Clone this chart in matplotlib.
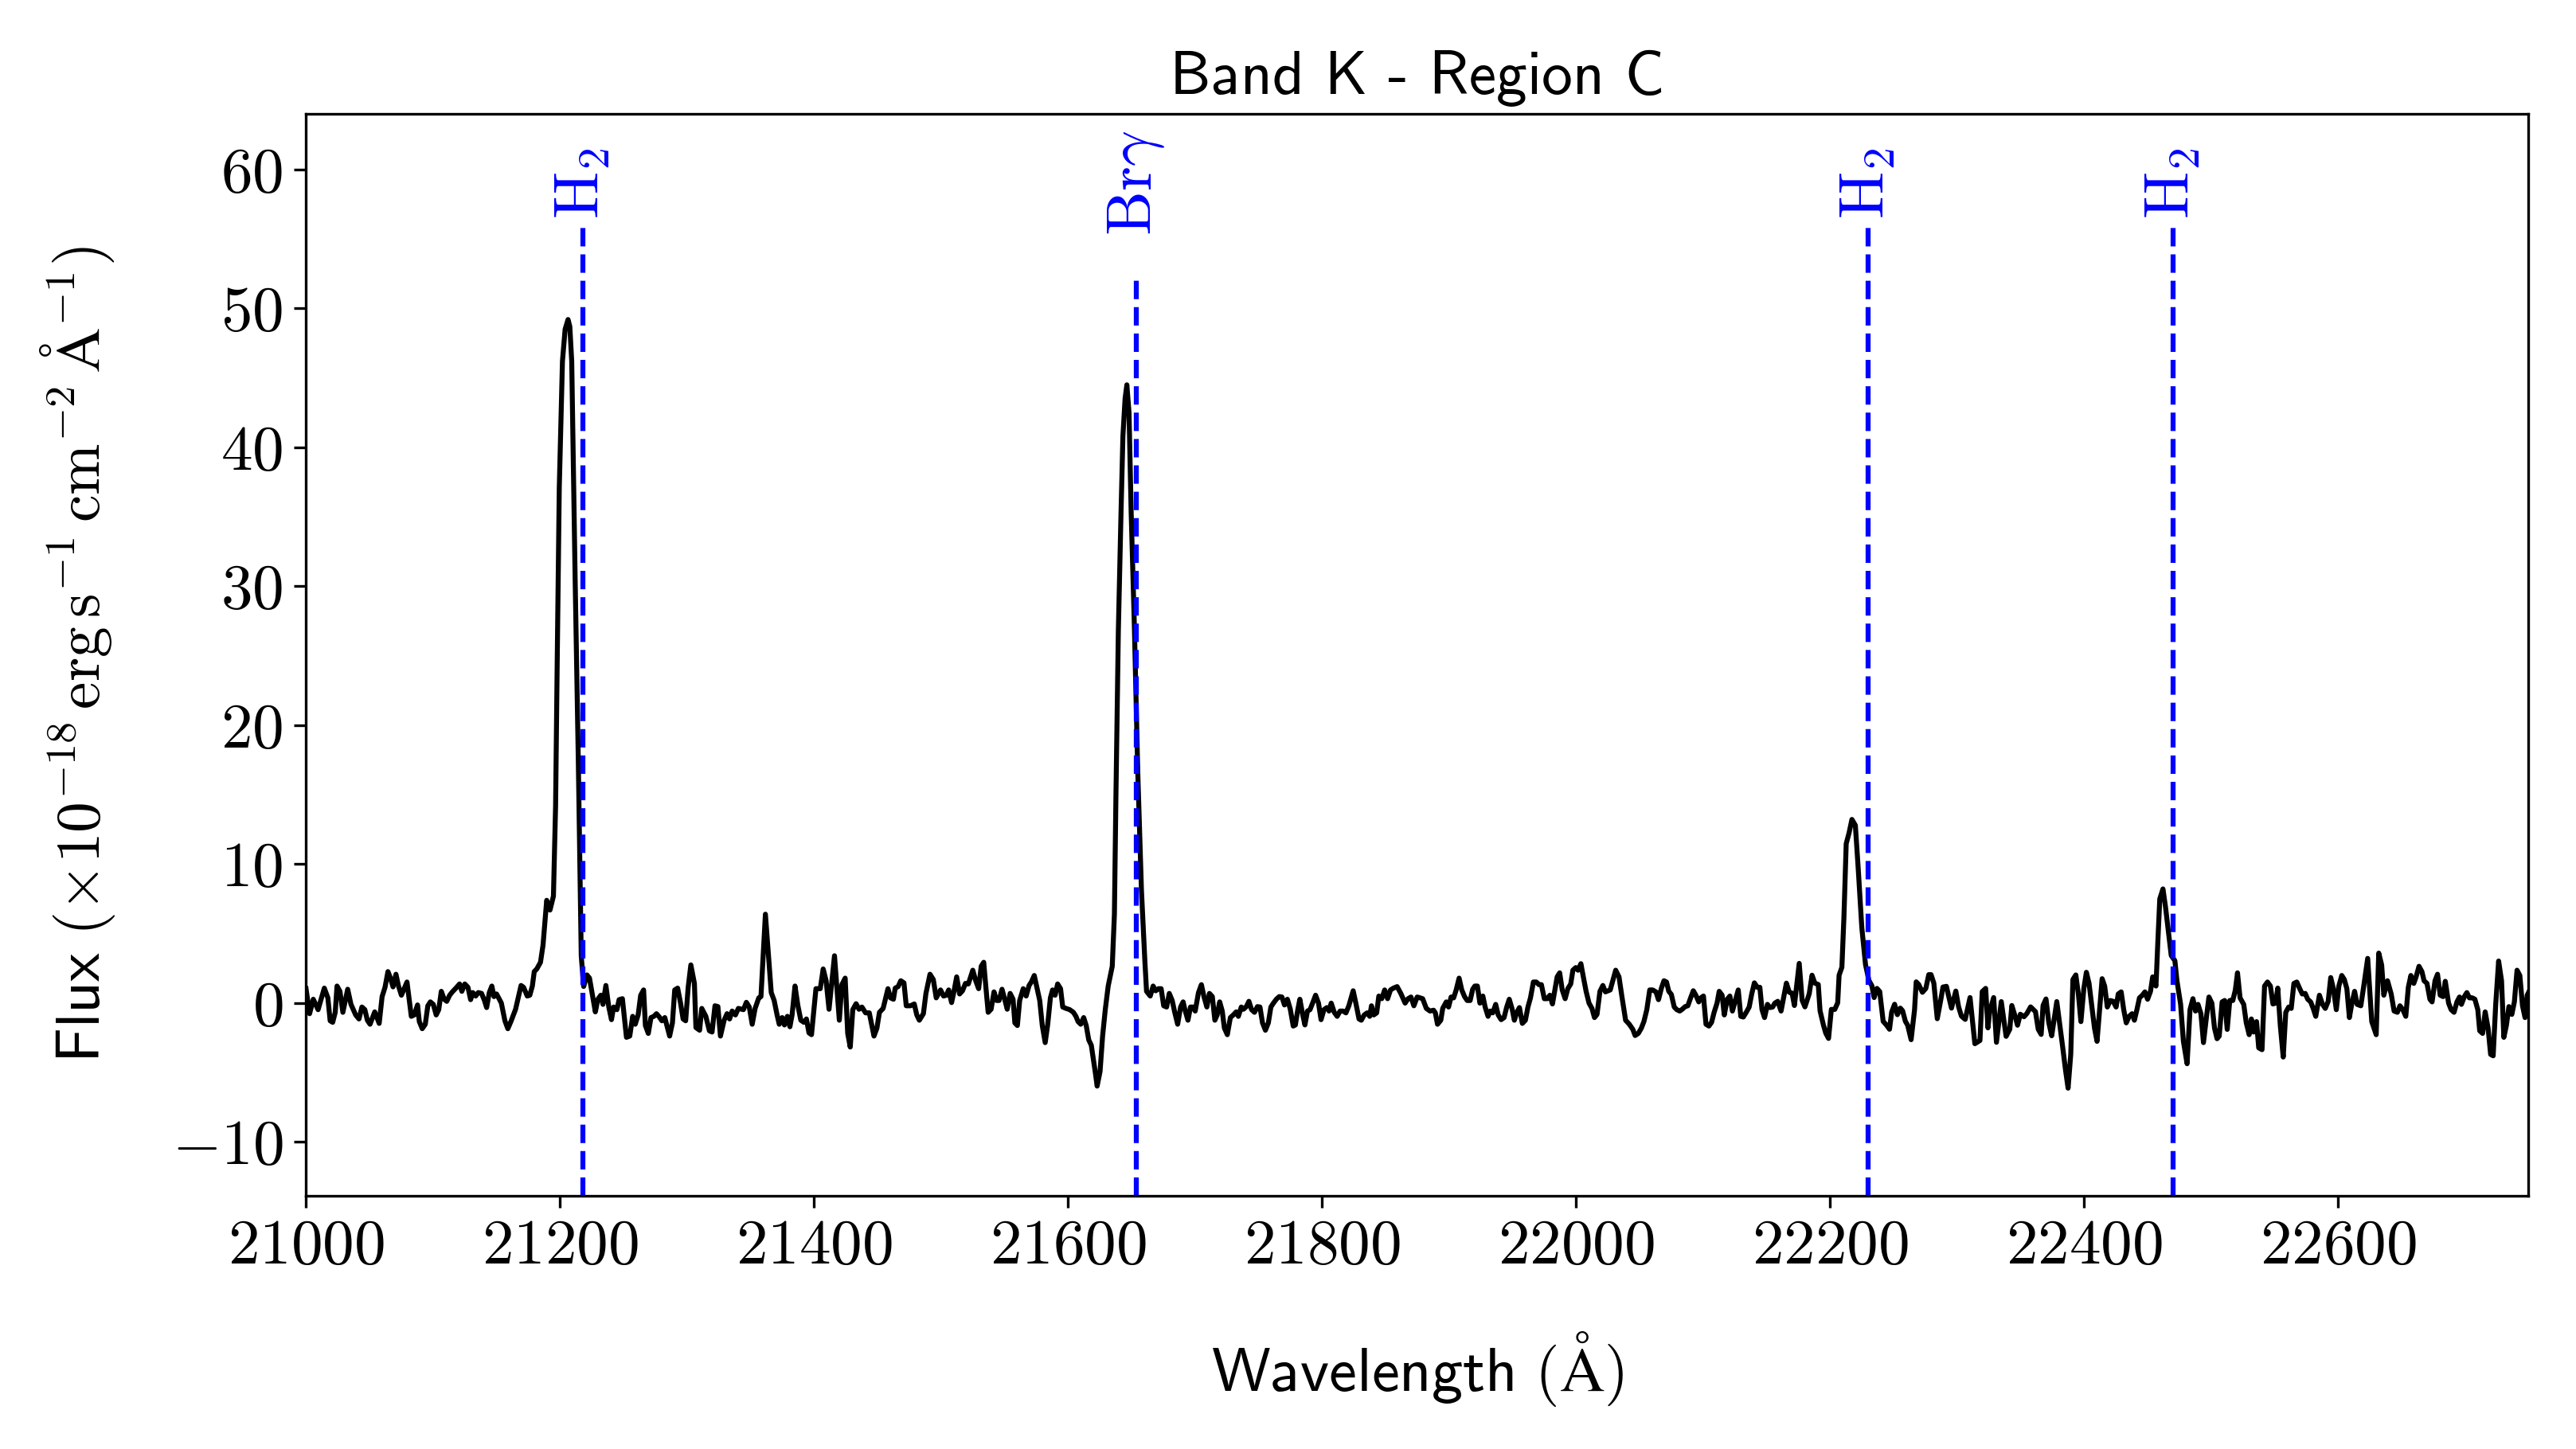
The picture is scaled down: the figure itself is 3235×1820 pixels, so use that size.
import numpy as np
import matplotlib
matplotlib.use("Agg")
import matplotlib.pyplot as plt

plt.rcParams["font.family"] = "cmr10"
plt.rcParams["mathtext.fontset"] = "cm"
plt.rcParams["axes.formatter.use_mathtext"] = True
plt.rcParams["axes.unicode_minus"] = True

# spectrum in pieces (wavelength in Angstrom, flux in 1e-18 cgs)
wave_a = [21000.0, 21002.8, 21005.7, 21009.5, 21014.4, 21017.2, 21019.0, 21021.0, 21023.0, 21024.4,
          21026.7, 21029.0, 21032.8, 21035.4, 21039.1, 21041.7, 21044.0, 21046.3, 21048.3, 21050.4,
          21054.1, 21057.6, 21059.9, 21062.2, 21064.5, 21066.5, 21068.5, 21070.8, 21072.8, 21075.1,
          21079.5, 21082.9, 21085.2, 21087.8, 21089.2, 21091.5, 21093.9, 21095.9, 21097.9, 21100.2,
          21102.5, 21104.5, 21106.5, 21108.8, 21110.8, 21113.1, 21115.2, 21118.0, 21120.9, 21122.7,
          21125.0, 21127.5, 21129.6, 21131.3, 21133.6, 21135.6, 21138.2, 21140.5, 21142.2, 21144.3,
          21146.3, 21148.0, 21150.0, 21152.0, 21153.8, 21156.6, 21158.9, 21161.3, 21165.0, 21169.3,
          21171.3, 21174.2, 21176.2, 21178.2, 21179.7, 21181.7, 21184.6, 21186.6]
flux_a = [1.04, -0.76, 0.28, -0.47, 1.08, 0.38, -1.27, -1.38, -0.66, 1.23,
          0.85, -0.66, 1.00, -0.09, -0.85, -1.14, -0.28, -0.47, -1.23, -1.52,
          -0.63, -1.46, 0.47, 1.14, 2.27, 1.80, 1.17, 2.08, 1.23, 0.57,
          1.52, -0.95, -0.85, -0.13, -1.33, -1.84, -1.52, -0.19, 0.09, -0.09,
          -0.85, -0.47, 0.85, 0.28, 0.13, 0.57, 0.81, 1.08, 1.38, 0.85,
          1.38, 1.14, 0.25, 0.76, 0.51, 0.76, 0.70, 0.19, -0.32, 0.76,
          1.23, 0.47, 0.66, 0.32, 0.00, -1.27, -1.84, -1.33, -0.44, 1.27,
          1.14, 0.51, 0.57, 1.23, 2.27, 2.46, 2.94, 4.17]

# H2 1-0 S(1) emission
wave_h2a = [21189.5, 21192.1, 21194.8, 21196.5, 21197.7, 21199.4, 21201.9, 21204.0, 21206.3, 21207.7,
            21209.2, 21211.9, 21214.4, 21216.7, 21218.6]
flux_h2a = [7.4, 6.7, 7.7, 14.2, 24.0, 37.1, 46.2, 48.5, 49.2, 48.7,
            46.2, 30.5, 17.4, 3.4, 1.2]

wave_b = [21221.2, 21223.2, 21225.5, 21227.8, 21229.8, 21232.1, 21233.8, 21236.1, 21238.4, 21240.5,
          21242.2, 21244.8, 21246.5, 21249.1, 21252.3, 21254.9, 21257.2, 21259.2, 21261.5, 21263.5,
          21265.8, 21267.2, 21269.5, 21271.6, 21273.9, 21275.9, 21278.2, 21280.2, 21282.5, 21286.3,
          21288.5, 21290.3, 21292.6, 21294.9, 21296.9, 21298.9, 21300.9, 21303.0, 21305.8, 21307.0,
          21309.9, 21311.6, 21314.8, 21317.6, 21319.7, 21322.0, 21324.3, 21326.3, 21329.2, 21331.5,
          21333.5, 21335.5, 21338.1, 21340.4, 21344.4, 21346.7, 21349.0, 21351.3, 21353.6, 21356.5,
          21358.2, 21361.7, 21364.0, 21366.3, 21368.6, 21370.9, 21372.6, 21374.9, 21376.7, 21379.0,
          21381.0, 21382.7, 21385.0, 21387.3, 21389.6, 21392.0, 21394.0, 21396.0, 21398.0, 21400.0,
          21401.5, 21404.9, 21407.2, 21409.5, 21411.8, 21416.1, 21419.9, 21421.9, 21424.5, 21426.5,
          21428.5, 21430.5, 21433.1, 21435.4, 21437.7, 21440.6, 21443.5, 21447.2]
flux_b = [2.03, 1.80, 0.57, -0.63, 0.28, 0.57, -0.09, 1.27, -0.28, -1.19,
          -0.28, -0.47, 0.25, 0.32, -2.46, -2.37, -0.95, -1.52, -0.85, 0.57,
          0.95, -1.61, -2.18, -1.04, -0.95, -0.76, -1.00, -1.27, -1.04, -2.37,
          -1.42, 0.95, 1.08, 0.00, -1.14, -1.27, 1.14, 2.75, 1.42, -1.76,
          -1.95, -0.38, -0.95, -1.99, -2.08, -0.19, -0.25, -2.37, -1.23, -0.76,
          -1.14, -0.57, -0.85, -0.38, -0.47, 0.06, -0.28, -1.52, -0.38, 0.38,
          0.47, 6.40, 3.60, 0.76, 0.19, -0.85, -1.52, -1.04, -1.57, -0.95,
          -1.70, -0.85, 1.23, -0.19, -1.23, -1.38, -1.14, -2.14, -2.27, -0.38,
          1.04, 1.04, 2.46, 1.61, -0.44, 3.41, -1.23, 1.33, 1.80, -2.18,
          -3.16, -0.47, -0.04, -0.44, -0.28, -0.70, -0.70, -2.37]

wave_c = [21449.5, 21451.5, 21454.4, 21458.2, 21460.2, 21462.5, 21463.9, 21466.2, 21468.3, 21470.8,
          21472.6, 21476.0, 21478.9, 21480.9, 21482.9, 21486.1, 21488.1, 21491.3, 21493.9, 21496.2,
          21499.6, 21502.0, 21504.2, 21506.0, 21508.3, 21510.0, 21512.3, 21514.6, 21516.9, 21519.2,
          21521.5, 21525.0, 21527.3, 21529.6, 21531.6, 21533.6, 21535.4, 21537.1, 21539.4, 21541.7,
          21543.7, 21545.7, 21548.0, 21550.0, 21552.1, 21554.4, 21556.7, 21558.1, 21560.1, 21561.9,
          21564.7, 21567.0, 21569.3, 21571.1, 21573.4, 21575.7, 21577.7, 21579.7, 21582.0, 21584.0,
          21586.1, 21587.8, 21589.8, 21591.8, 21594.1, 21595.8, 21598.4, 21601.3, 21604.2, 21606.2,
          21607.9, 21610.0, 21612.3, 21614.3, 21616.3, 21618.3, 21620.0, 21621.5, 21622.9, 21625.2,
          21627.2, 21629.3, 21631.6]
flux_c = [-1.80, -0.66, -0.38, 1.04, 0.38, 0.28, 1.08, 1.19, 1.61, 1.46,
          -0.19, -0.19, -0.06, -0.85, -1.23, -0.76, 0.70, 2.08, 1.70, 0.38,
          0.95, 0.51, 0.57, 0.95, 0.04, 0.76, 1.89, 0.66, 0.89, 1.42,
          1.38, 2.37, 1.61, 1.04, 2.65, 2.94, 1.04, -0.66, -0.44, 0.81,
          0.19, 0.19, 1.00, 0.32, -0.44, 0.70, 0.28, -1.42, -1.61, 0.19,
          1.04, 0.51, 1.27, 1.52, 1.99, 1.04, 0.19, -1.61, -2.84, -1.52,
          0.38, 0.95, 0.57, 1.38, 1.04, -0.28, -0.38, -0.47, -0.66, -0.95,
          -1.33, -1.52, -1.04, -1.61, -2.65, -3.03, -4.07, -5.02, -5.97, -4.92,
          -2.37, -0.47, 1.23]

# Br gamma emission
wave_brg = [21634.8, 21636.5, 21637.7, 21639.6, 21641.7, 21643.2, 21644.9, 21646.3, 21648.0, 21649.7,
            21652.2, 21654.9, 21657.8, 21660.5]
flux_brg = [2.65, 6.4, 14.9, 26.8, 35.3, 40.8, 43.5, 44.5, 42.5, 35.3,
            27.2, 16.6, 8.1, 3.0]

wave_d = [21661.8, 21664.7, 21667.0, 21669.0, 21671.3, 21673.3, 21675.3, 21677.6, 21679.7, 21682.0,
          21684.0, 21686.3, 21688.6, 21690.6, 21692.0, 21694.4, 21696.4, 21698.4, 21700.1, 21702.7,
          21705.0, 21707.0, 21709.3, 21711.3, 21713.6, 21715.6, 21717.4, 21719.4, 21721.4, 21723.1,
          21725.4, 21727.8, 21730.1, 21732.4, 21734.1, 21736.4, 21738.1, 21740.4, 21742.4, 21744.5,
          21746.8, 21749.1, 21751.1, 21753.1, 21755.4, 21757.7, 21759.7, 21761.7, 21764.0, 21766.3,
          21768.4, 21770.4, 21772.7, 21775.0, 21777.3, 21779.0, 21780.7, 21782.5, 21784.8, 21786.5,
          21788.5, 21790.5, 21792.8, 21794.9, 21797.2, 21799.2, 21801.5, 21803.8, 21805.5, 21807.2,
          21809.6, 21811.9, 21814.2, 21816.5, 21818.8, 21821.1, 21824.5, 21826.8, 21829.1, 21830.9,
          21833.2, 21835.5, 21837.5, 21838.9, 21840.7, 21843.0, 21844.7, 21847.0, 21849.3, 21851.6,
          21853.9, 21856.2, 21859.1, 21862.0, 21865.4, 21867.7, 21870.0, 21872.3, 21874.9, 21877.2,
          21879.2, 21882.1, 21885.0]
flux_d = [0.85, 0.51, 1.23, 0.89, 1.04, 1.04, -0.19, -0.28, 0.70, 0.19,
          -0.66, -1.52, -0.28, 0.09, -0.47, -1.23, -0.28, -0.28, -0.57, 0.76,
          1.33, 0.47, -0.28, 0.70, 0.47, -1.23, -0.85, 0.09, -0.57, -1.80,
          -2.27, -1.04, -0.85, -0.63, -0.95, -0.28, -0.44, -0.25, 0.13, -0.47,
          -0.66, -0.25, -0.28, -1.42, -1.95, -1.42, -0.28, 0.00, 0.28, 0.47,
          0.44, -0.13, 0.28, -0.44, -1.65, -1.57, -0.57, 0.28, -0.85, -1.57,
          -0.57, -0.47, 0.06, 0.57, 0.00, -1.19, -0.47, -0.32, -0.57, 0.00,
          -0.66, -0.95, -0.57, -0.57, -0.70, -0.19, 0.89, -0.09, -1.14, -1.23,
          -0.85, -0.70, -0.95, -0.19, -0.85, -0.70, 0.51, 0.32, 0.95, 0.32,
          0.95, 1.08, 1.19, 0.70, 0.00, 0.32, 0.44, -0.19, 0.44, 0.38,
          0.32, -0.38, -0.57]

wave_e = [21887.8, 21889.2, 21890.9, 21893.5, 21895.0, 21897.8, 21899.6, 21901.6, 21903.6, 21905.6,
          21907.9, 21910.0, 21912.2, 21914.3, 21916.6, 21918.6, 21920.3, 21922.3, 21924.3, 21926.6,
          21928.4, 21930.7, 21932.4, 21934.4, 21936.7, 21938.7, 21941.0, 21943.3, 21945.4, 21947.4,
          21949.7, 21951.4, 21953.4, 21955.4, 21957.7, 21960.1, 21962.1, 21964.1, 21966.4, 21968.7,
          21970.7, 21972.7, 21975.0, 21977.3, 21979.4, 21981.4, 21983.1, 21985.1, 21987.1, 21989.1,
          21991.4, 21993.5, 21995.8, 21997.5, 21999.8, 22001.5, 22003.8, 22005.9, 22007.9, 22010.2,
          22012.5, 22014.5, 22016.5, 22018.8, 22021.1, 22023.1, 22026.9, 22028.9, 22031.2, 22033.8,
          22036.1, 22039.0, 22041.9, 22044.7, 22046.5, 22049.0, 22051.4, 22053.4, 22055.7, 22058.0,
          22060.3, 22062.9, 22064.9, 22067.2, 22069.2, 22071.2, 22073.0, 22075.0, 22077.3, 22079.3,
          22081.6, 22083.6, 22085.9, 22088.0, 22090.2, 22092.3, 22094.3, 22096.6, 22098.3, 22100.3,
          22102.3, 22104.6, 22106.7, 22108.7, 22111.0, 22112.7, 22115.0, 22116.7, 22119.0, 22121.1,
          22123.1, 22125.4, 22127.7, 22129.7, 22131.7, 22134.0, 22136.3, 22138.3, 22140.4, 22142.7,
          22144.7, 22146.4, 22148.4, 22150.7, 22152.7, 22154.8, 22156.5, 22158.8, 22161.4]
flux_e = [-0.51, -0.70, -1.52, -1.23, -0.38, 0.09, -0.28, 0.44, 0.38, 0.95,
          1.80, 0.95, 0.47, 0.19, 0.19, 1.00, 1.23, 1.23, 0.00, 0.51,
          -0.28, -0.95, -0.57, -0.70, -0.09, -0.85, -1.19, -1.04, -0.28, 0.28,
          -0.44, -1.23, -0.66, -0.32, -1.46, -1.23, -0.28, 0.38, 1.52, 1.52,
          1.33, 1.33, 0.32, 0.32, 0.57, -0.06, 0.85, 1.89, 2.18, 0.95,
          0.32, 1.04, 1.38, 2.37, 2.56, 2.37, 2.84, 1.80, 0.85, 0.00,
          -0.38, -1.04, -0.81, 0.85, 1.27, 0.81, 0.95, 1.61, 2.37, 1.89,
          0.47, -1.23, -1.52, -1.89, -2.33, -2.18, -1.80, -1.33, -0.47, 0.95,
          0.95, 0.81, 0.25, 1.08, 1.61, 1.52, 0.85, 0.63, -0.28, -0.47,
          -0.57, -0.44, -0.25, -0.19, 0.38, 0.89, 0.57, 0.09, 0.38, 0.51,
          -1.52, -1.65, -1.38, -0.66, 0.00, 0.85, 0.57, -0.85, 0.28, 0.51,
          -0.57, 0.19, 0.95, -0.95, -1.00, -0.66, -0.28, 0.66, 1.46, 1.14,
          1.14, -0.47, -1.04, -0.09, -0.32, -0.28, 0.00, 0.13, -0.57]

# H2 1-0 S(0) emission and surroundings
wave_f = [22165.6, 22167.9, 22170.1, 22171.9, 22175.7, 22178.0, 22180.2, 22183.6, 22185.8, 22188.0,
          22190.7, 22192.1, 22194.8, 22196.6, 22198.8, 22201.0, 22203.7, 22206.0, 22207.1, 22209.3,
          22210.9, 22212.7, 22214.9, 22217.2, 22219.9, 22222.1, 22225.0, 22227.9, 22230.6, 22232.9,
          22234.7, 22236.9, 22239.1, 22241.8, 22244.5, 22246.8, 22248.5, 22250.8, 22253.0, 22255.3,
          22257.1, 22259.3, 22261.1, 22263.8, 22266.5, 22267.8, 22269.8, 22272.7, 22275.4, 22277.7,
          22279.5, 22281.7, 22284.4, 22287.1, 22288.9, 22291.6, 22293.4, 22295.6, 22299.0, 22301.2,
          22303.4, 22306.4, 22310.2, 22314.0, 22318.0, 22319.8, 22322.5, 22324.3, 22325.6, 22328.8,
          22331.0, 22334.8, 22338.6, 22341.5, 22343.1, 22345.3, 22347.6, 22349.8, 22352.7, 22355.0,
          22357.9, 22361.7, 22363.9, 22366.2, 22367.7, 22370.0, 22372.2, 22374.5, 22378.5]
flux_f = [1.44, 0.78, 0.72, -0.17, 2.86, 0.21, -0.27, 0.68, 2.01, 1.44,
          1.34, -0.55, -1.59, -2.16, -2.54, -0.45, -0.45, 0.02, 2.01, 2.58,
          6.17, 11.48, 12.23, 13.22, 12.80, 9.77, 5.42, 2.77, 1.63, 1.25,
          0.40, 1.06, 0.83, -1.31, -1.59, -1.88, -0.64, -0.08, -0.83, -0.36,
          -0.55, -1.31, -1.59, -2.63, -0.49, 1.53, 1.34, 0.78, 1.06, 2.05,
          2.05, 1.44, -1.12, 0.21, 1.16, 1.21, 0.49, -0.36, 0.87, -0.27,
          -0.93, -1.17, 0.40, -2.92, -2.69, 0.83, 1.06, -1.78, -0.64, 0.40,
          -2.82, 0.11, -2.39, -1.88, -0.17, -0.83, -1.59, -0.80, -0.98, -0.74,
          -0.27, -0.61, -1.88, -2.25, -0.17, 0.30, -1.40, -2.35, 0.11]

wave_g = [22383.1, 22385.4, 22387.4, 22389.5, 22391.2, 22393.5, 22395.5, 22397.5, 22399.8, 22401.8,
          22403.9, 22406.2, 22408.2, 22410.2, 22411.9, 22414.2, 22416.2, 22418.3, 22420.6, 22422.9,
          22425.2, 22426.9, 22429.2, 22431.2, 22433.2, 22435.5, 22437.8, 22439.6, 22441.6, 22443.6,
          22445.9, 22447.9, 22450.0, 22452.3, 22454.0, 22456.6]
flux_g = [-3.13, -4.83, -6.12, -3.69, 1.70, 2.03, 0.66, -1.33, 1.04, 2.22,
          1.42, -0.28, -1.80, -2.75, -0.85, 1.76, 1.23, -0.28, 0.19, 0.13,
          -0.28, 0.66, 0.81, -0.47, -1.42, -0.95, -0.76, -1.23, -0.47, 0.38,
          0.57, 0.81, 0.28, 0.85, 1.89, 1.23]

# H2 2-1 S(1) emission
wave_h2c = [22458.1, 22459.6, 22462.1, 22464.1, 22467.0, 22468.6, 22471.5, 22473.1, 22476.0, 22478.2,
            22481.1, 22483.4, 22485.7, 22487.7, 22489.7, 22492.0, 22494.0, 22496.3, 22498.3, 22500.6,
            22502.7, 22504.7, 22506.4, 22508.7, 22510.7, 22512.7]
flux_h2c = [4.47, 7.50, 8.22, 6.93, 4.66, 3.43, 3.05, 1.63, -0.08, -2.75,
            -4.36, -0.47, 0.32, -0.57, -0.09, -0.76, -2.84, -1.04, 0.44, 0.00,
            -1.80, -2.56, -2.37, 0.09, 0.19, -1.89]

wave_h = [22514.7, 22517.1, 22519.1, 22520.8, 22522.8, 22525.7, 22527.7, 22530.0, 22531.7, 22533.5,
          22535.8, 22537.5, 22540.1, 22542.1, 22544.4, 22546.7, 22548.7, 22550.8, 22552.5, 22554.5,
          22556.8, 22558.8, 22561.1, 22563.1, 22565.2, 22567.5, 22569.8, 22571.8, 22574.1, 22576.1,
          22578.4, 22580.4, 22582.4, 22585.3, 22587.6, 22589.9, 22592.2, 22594.2, 22596.3, 22598.6,
          22600.6, 22602.9, 22604.9, 22606.9, 22608.9, 22610.7, 22613.0, 22615.0, 22617.9, 22619.9,
          22623.3, 22626.5, 22630.0, 22632.0, 22634.3, 22636.0, 22638.9, 22641.8, 22644.1, 22646.7,
          22648.7, 22651.0, 22653.3, 22655.3, 22657.3, 22659.6, 22661.4, 22663.7, 22666.0, 22667.7,
          22670.0, 22672.3, 22674.0, 22676.3, 22678.3, 22680.4, 22682.7, 22684.4, 22687.0, 22689.0,
          22691.3, 22693.6, 22695.6, 22697.1, 22699.4, 22701.4, 22703.4, 22705.7, 22707.7, 22710.0,
          22711.5, 22713.8, 22715.8, 22718.1, 22720.1, 22722.1, 22724.1, 22726.4, 22728.7, 22730.5,
          22732.5, 22734.5, 22736.8, 22738.8, 22740.9, 22743.1, 22745.2, 22747.2, 22748.9, 22750.4]
flux_h = [0.19, 0.19, 0.95, 2.18, 0.38, -0.09, -1.42, -2.27, -1.14, -2.08,
          -1.33, -3.22, -3.35, 1.23, 1.52, 1.23, -0.06, 0.00, 1.08, -1.61,
          -3.88, -0.66, -0.28, -0.38, 1.42, 1.52, 1.04, 0.66, 0.70, 0.28,
          0.09, -0.38, -0.95, 0.57, -0.06, -0.38, 0.13, 1.84, 1.04, -0.47,
          1.23, 1.99, 1.70, 1.04, -1.04, -0.09, 0.85, -0.09, -0.19, 1.04,
          3.22, -1.33, -2.27, 3.60, 2.75, 0.57, 1.61, 0.66, -0.57, -0.66,
          -0.19, -0.47, -0.95, 1.14, 1.99, 1.42, 1.89, 2.65, 2.27, 1.61,
          1.42, 0.28, 0.09, 1.61, 2.08, 0.57, 0.47, 1.57, 0.00, -0.47,
          -0.66, 0.09, 0.44, -0.09, 0.47, 0.76, 0.38, 0.38, 0.28, -0.47,
          -1.99, -2.18, -0.63, -1.80, -3.69, -3.79, -0.09, 3.03, 1.61, -2.46,
          -1.61, -0.25, -0.81, 0.09, 2.37, 1.99, -0.19, -1.04, 0.57, 0.85]

# line identifications
line_wave = [21218, 21654, 22230, 22470]
line_top = [56.0, 52.0, 56.0, 56.0]
line_names = [r"$\mathrm{H}_2$", r"$\mathrm{Br}\gamma$", r"$\mathrm{H}_2$", r"$\mathrm{H}_2$"]

wave = np.concatenate([wave_a, wave_h2a, wave_b, wave_c, wave_brg, wave_d, wave_e,
                       wave_f, wave_g, wave_h2c, wave_h])
flux = np.concatenate([flux_a, flux_h2a, flux_b, flux_c, flux_brg, flux_d, flux_e,
                       flux_f, flux_g, flux_h2c, flux_h])

fig = plt.figure(figsize=(3235 / 300, 1820 / 300), dpi=300)
ax = fig.add_axes([0.1188, 0.1749, 0.8628, 0.7465])

ax.plot(wave, flux, color="black", lw=1.5)

ymin, ymax = -13.85, 64.0
for lw_, top, name in zip(line_wave, line_top, line_names):
    ax.vlines(lw_, ymin, top, colors="blue", linestyles="dashed", lw=1.5)
    ax.text(lw_, 59.0, name, color="blue", rotation=90, ha="center", va="center",
            fontsize=19)

ax.set_xlim(21000, 22750)
ax.set_ylim(ymin, ymax)
ax.set_xticks(np.arange(21000, 22601, 200))
ax.set_yticks(np.arange(-10, 61, 10))
ax.tick_params(labelsize=19)

ax.set_title("Band K - Region C", fontsize=18.6, family="cmss10")
ax.set_xlabel(r"Wavelength$\ (\mathrm{\AA})$", fontsize=18.8, family="cmss10")
ax.set_ylabel(r"Flux$\ (\times10^{-18}\,\mathrm{erg\,s^{-1}\,cm^{-2}\,\AA^{-1}})$",
              fontsize=18.6, family="cmss10")
ax.xaxis.set_label_coords(0.5, -0.124)
ax.yaxis.set_label_coords(-0.085, 0.5)

fig.savefig("out.png", dpi=300)
